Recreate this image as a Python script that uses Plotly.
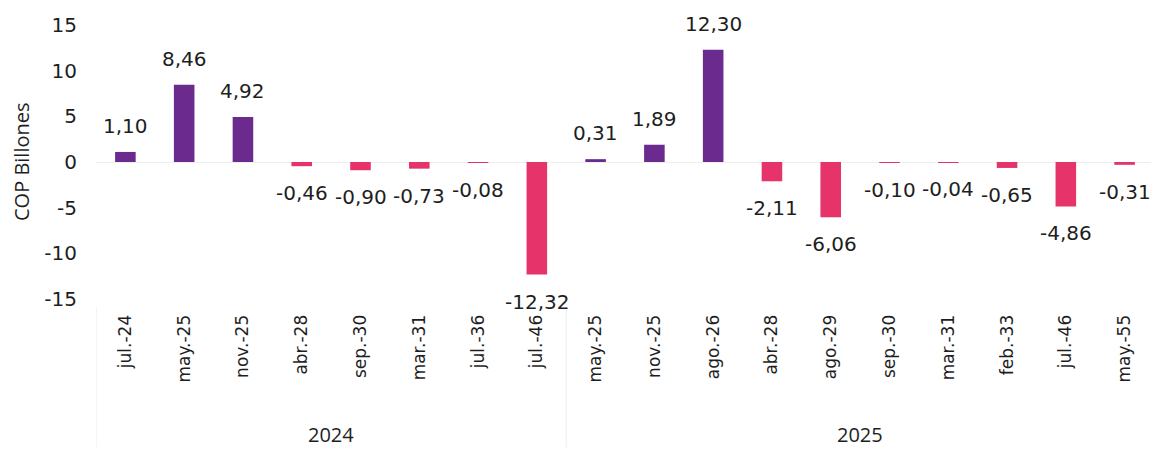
import plotly.graph_objects as go

# Data
year_groups = ["2024", "2025"]
group_sizes = [8, 10]
bonds = [
    "jul.-24", "may.-25", "nov.-25", "abr.-28", "sep.-30", "mar.-31", "jul.-36", "jul.-46",
    "may.-25", "nov.-25", "ago.-26", "abr.-28", "ago.-29", "sep.-30", "mar.-31", "feb.-33",
    "jul.-46", "may.-55",
]
values = [
    1.10, 8.46, 4.92, -0.46, -0.90, -0.73, -0.08, -12.32,
    0.31, 1.89, 12.30, -2.11, -6.06, -0.10, -0.04, -0.65, -4.86, -0.31,
]
y_ticks = [-15, -10, -5, 0, 5, 10, 15]

PURPLE = "#6a2a8e"
PINK = "#e6336a"
TEXT = "#1e1e1e"
DIVIDER = "#ececec"
MAIN_FONT = "DejaVu Sans, Verdana, sans-serif"
ALT_FONT = "Open Sans, Lato, sans-serif"

# page body keeps its default 8px margin, so the figure is 8px smaller
W, H = 1151, 441
M_L, M_R, M_T, M_B = 88, 5, 14, 150
plot_h = H - M_T - M_B
plot_w = W - M_L - M_R

positions = list(range(len(bonds)))
colors = [PURPLE if v >= 0 else PINK for v in values]
labels = [f"{v:.2f}".replace(".", ",") for v in values]

fig = go.Figure()
fig.add_trace(go.Bar(
    x=positions,
    y=values,
    width=0.35,
    marker=dict(color=colors, line=dict(width=0)),
    showlegend=False,
    hoverinfo="skip",
))

# value labels, set a bit further off the bar ends than plotly's own text
for x, v, t in zip(positions, values, labels):
    fig.add_annotation(
        x=x, y=v, xref="x", yref="y", text=t, showarrow=False,
        yanchor="bottom" if v >= 0 else "top",
        yshift=12 if v >= 0 else -13,
        font=dict(family=MAIN_FONT, size=20, color=TEXT),
    )

# group labels and dividers below the axis
start = 0
bounds = [-0.5]
for name, size in zip(year_groups, group_sizes):
    mid = start + (size - 1) / 2
    fig.add_annotation(
        x=mid, xref="x", y=-(M_B - 13) / plot_h, yref="paper",
        text=name, showarrow=False, yanchor="middle",
        font=dict(family=ALT_FONT, size=20, color=TEXT),
    )
    start += size
    bounds.append(start - 0.5)

for b in bounds:
    fig.add_shape(
        type="line", xref="x", yref="paper",
        x0=b, x1=b, y0=-8 / plot_h, y1=-M_B / plot_h,
        line=dict(color=DIVIDER, width=1),
    )

# y axis title
fig.add_annotation(
    x=(13 - M_L) / plot_w, xref="paper", y=0.5, yref="paper",
    text="COP Billones", textangle=-90, showarrow=False,
    xanchor="center", yanchor="middle",
    font=dict(family=ALT_FONT, size=20, color=TEXT),
)

fig.update_layout(
    width=W,
    height=H,
    margin=dict(l=M_L, r=M_R, t=M_T, b=M_B),
    paper_bgcolor="white",
    plot_bgcolor="white",
    font=dict(family=MAIN_FONT, size=16, color=TEXT),
)

fig.update_yaxes(
    range=[-15, 15],
    tickvals=y_ticks,
    ticktext=[str(t) for t in y_ticks],
    showgrid=False,
    zeroline=True,
    zerolinecolor="#eeeeee",
    zerolinewidth=1,
    showline=False,
    tickfont=dict(size=20),
    ticklabelstandoff=18,
)

# invisible ticks push the rotated labels a little lower
fig.update_xaxes(
    range=[-0.5, len(bonds) - 0.5],
    tickvals=positions,
    ticktext=bonds,
    tickangle=-90,
    ticks="outside",
    ticklen=8,
    tickcolor="rgba(0,0,0,0)",
    showgrid=False,
    zeroline=False,
    showline=False,
    tickfont=dict(size=17),
)

fig.write_html("out.html")
